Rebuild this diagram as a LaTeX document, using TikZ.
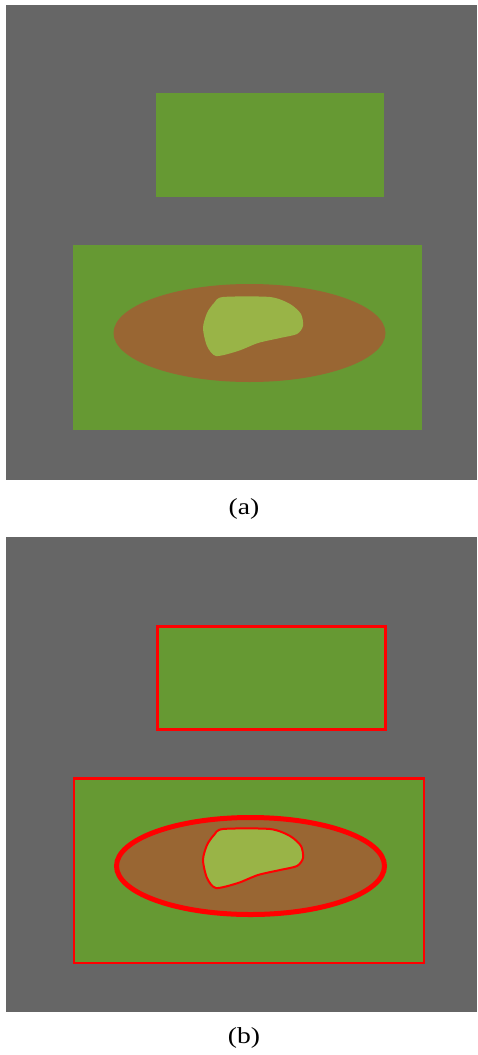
\documentclass[tikz,border=0pt]{standalone}
\usepackage{fontspec}
\setmainfont{Liberation Serif}
\definecolor{bg}{HTML}{666666}
\definecolor{grn}{HTML}{669933}
\definecolor{brn}{HTML}{996633}
\definecolor{lgrn}{HTML}{99B447}
\definecolor{rd}{HTML}{FF0000}
\tikzset{
  panel/.style={fill=bg,draw=none},
  field/.style={fill=grn,draw=none},
  soil/.style={fill=brn,draw=none},
  patch/.style={fill=lgrn,draw=none},
  edgeline/.style={draw=rd,line width=3pt},
  captext/.style={font=\fontsize{23}{23}\selectfont,xscale=1.2}
}
\newcommand{\blobpath}[1]{%
  plot[smooth cycle,tension=0.45] coordinates {
   (223,297+#1) (270,297+#1) (290,304+#1) (301,314+#1) (303,326+#1)
   (297,334+#1) (280,338+#1) (258,343+#1) (238,351+#1) (216,356+#1)
   (207,346+#1) (203,328+#1) (207,313+#1) (214,303+#1)}}
\begin{document}
\begin{tikzpicture}[x=1pt,y=-1pt]
\fill[white] (0,0) rectangle (477,1055);
\useasboundingbox (0,0) rectangle (477,1055);
% panel (a)
\fill[panel] (6,5) rectangle (477,480);
\fill[field] (156,93) rectangle (384,197);
\fill[field] (73,245) rectangle (422,430);
\fill[soil] (249.5,333) ellipse [x radius=136pt, y radius=49pt];
\fill[patch] \blobpath{0};
\node[captext] (capa) at (244,509) {(a)};
% panel (b)
\fill[panel] (6,537) rectangle (477,1012);
\path[field,edgeline] (157.5,626.5) rectangle (385.5,729.5);
\path[field,edgeline,line width=2.5pt] (74,778.5) rectangle (424,963);
\path[soil,edgeline,line width=5pt] (250.5,866) ellipse [x radius=134pt, y radius=48.5pt];
\path[patch,edgeline,line width=2pt] \blobpath{532};
\node[captext] (capb) at (244,1038) {(b)};
\end{tikzpicture}
\end{document}
